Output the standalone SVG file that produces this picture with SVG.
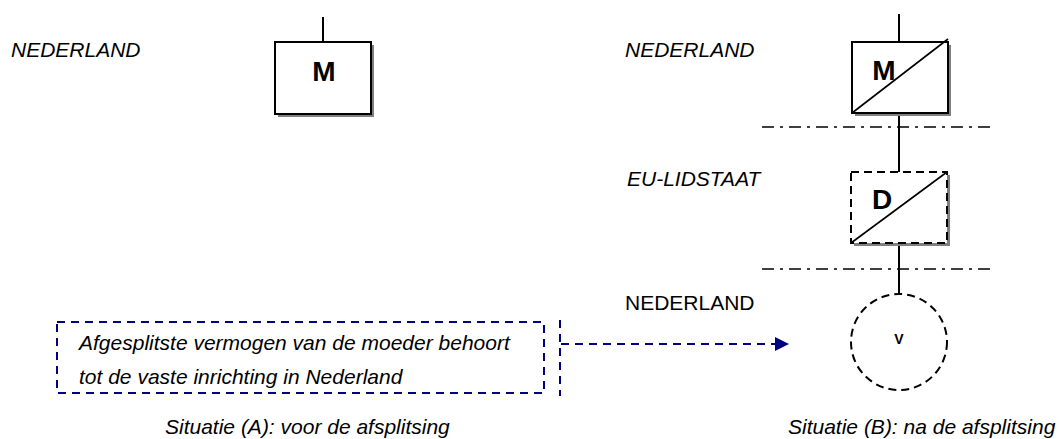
<svg xmlns="http://www.w3.org/2000/svg" width="1059" height="439" viewBox="0 0 1059 439">
<style>
text{font-family:"Liberation Sans",Arial,sans-serif;fill:#000}
.lbl{font-size:21px;font-style:italic}
.plain{font-size:21px}
.big{font-size:28px;font-weight:bold;text-anchor:middle}
.small{font-size:14px;font-weight:bold;text-anchor:middle}
.box{fill:#fff;stroke:#000;stroke-width:2}
.dbox{fill:#fff;stroke:#000;stroke-width:2;stroke-dasharray:8,5}
.shadow{fill:#808080}
.ln{stroke:#000;stroke-width:2;fill:none}
.diag{stroke:#000;stroke-width:1.6;fill:none}
.dd{stroke:#000;stroke-width:1.5;fill:none;stroke-dasharray:12,6,3,6}
.nav{stroke:#000080;stroke-width:2;fill:none;stroke-dasharray:8,6}
</style>
<g id="connectors">
<line class="ln" x1="323" y1="17" x2="323" y2="42"/>
<line class="ln" x1="899" y1="14" x2="899" y2="42"/>
<line class="ln" x1="899" y1="113" x2="899" y2="172"/>
<line class="ln" x1="899" y1="243" x2="899" y2="294"/>
<line class="dd" x1="762" y1="127" x2="995" y2="127"/>
<line class="dd" x1="762" y1="269" x2="995" y2="269"/>
<line class="nav" x1="560" y1="320" x2="560" y2="396"/>
<line class="nav" x1="561" y1="344" x2="776" y2="344"/>
<path d="M775,337 L789,344 L775,351 Z" fill="#000080"/>
</g>
<g id="node-m-left">
<rect class="shadow" x="278" y="45" width="96" height="72"/>
<rect class="box" x="275" y="42" width="96" height="72"/>
<text class="big" x="324" y="81">M</text>
</g>
<g id="node-m-right">
<rect class="shadow" x="855" y="45" width="96" height="71"/>
<rect class="box" x="852" y="42" width="96" height="71"/>
<text class="big" x="884" y="80">M</text>
<line class="diag" x1="852" y1="113" x2="948" y2="39"/>
</g>
<g id="node-d">
<rect class="shadow" x="854" y="175" width="96" height="71"/>
<rect fill="#fff" x="851" y="172" width="96" height="71"/>
<rect class="dbox" x="851" y="172" width="96" height="71"/>
<text class="big" x="882" y="209">D</text>
<line class="diag" x1="851" y1="243" x2="947" y2="172"/>
</g>
<g id="node-v">
<circle class="dbox" cx="899" cy="342" r="48"/>
<text class="small" x="899" y="344">V</text>
</g>
<g id="note">
<rect class="nav" x="57" y="322" width="487" height="71"/>
<text class="lbl" x="79" y="350">Afgesplitste vermogen van de moeder behoort</text>
<text class="lbl" x="79" y="384">tot de vaste inrichting in Nederland</text>
</g>
<g id="labels">
<text class="lbl" x="11" y="57">NEDERLAND</text>
<text class="lbl" x="625" y="57">NEDERLAND</text>
<text class="lbl" x="627" y="186">EU-LIDSTAAT</text>
<text class="plain" x="625" y="310">NEDERLAND</text>
<text class="lbl" x="165" y="434">Situatie (A): voor de afsplitsing</text>
<text class="lbl" x="788" y="434">Situatie (B): na de afsplitsing</text>
</g>
</svg>
